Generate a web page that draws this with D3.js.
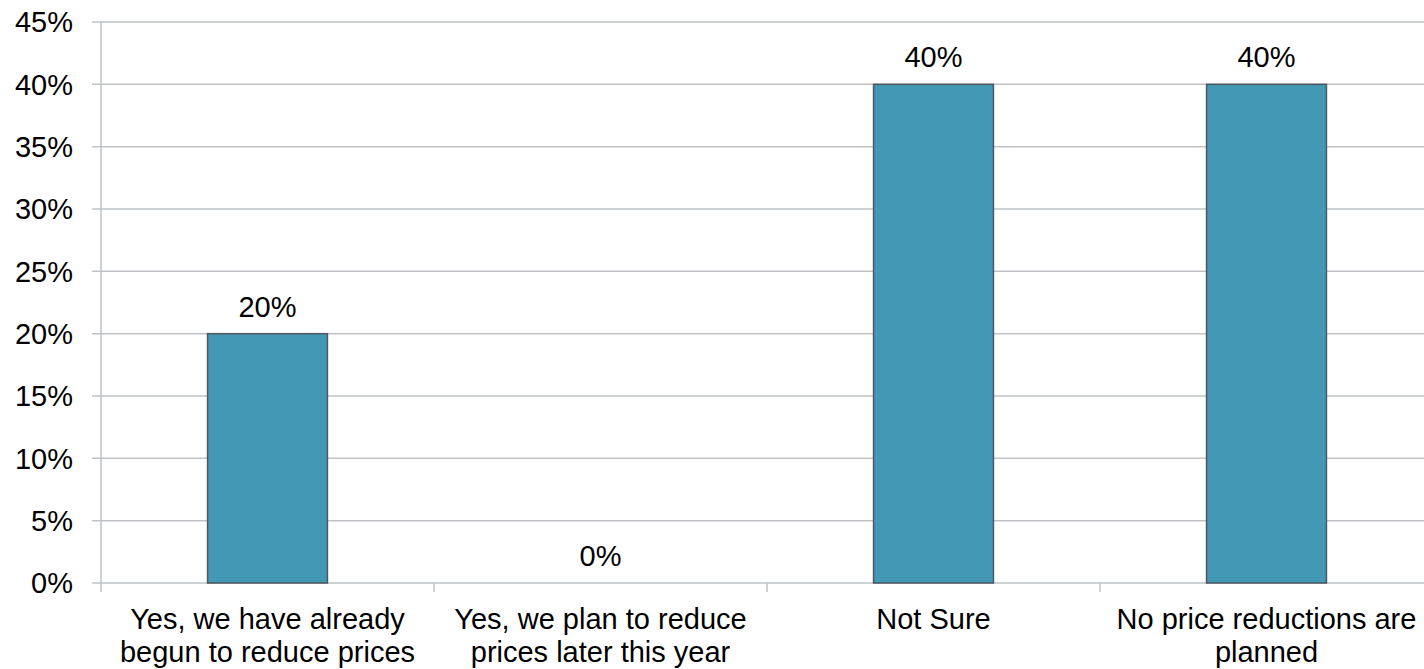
<!DOCTYPE html>
<html lang="en">
<head>
<meta charset="utf-8">
<title>Price reductions</title>
<script src="https://d3js.org/d3.v7.js"></script>
<style>
  body { margin: 0; background: #fff; }
  text { font-family: "Liberation Sans", Arial, sans-serif; fill: #000; }
</style>
</head>
<body>
<script>

// data
const categories = [
  ["Yes, we have already", "begun to reduce prices"],
  ["Yes, we plan to reduce", "prices later this year"],
  ["Not Sure"],
  ["No price reductions are", "planned"]
];
const values = [20, 0, 40, 40];
const yTicks = [0, 5, 10, 15, 20, 25, 30, 35, 40, 45];

const w = 1424, h = 669;
const margin = {top: 22, right: -9, bottom: 86, left: 101};
const innerWidth = w - margin.left - margin.right;
const innerHeight = h - margin.top - margin.bottom;

const svg = d3.select("body").append("svg")
    .attr("width", w)
    .attr("height", h);

const g = svg.append("g")
    .attr("transform", `translate(${margin.left},${margin.top})`);

const xScale = d3.scaleBand()
    .domain(d3.range(categories.length))
    .range([0, innerWidth])
    .padding(0);

const yScale = d3.scaleLinear()
    .domain([0, 45])
    .range([innerHeight, 0]);

// gridlines + y tick marks
g.selectAll("line.grid")
  .data(yTicks)
  .enter().append("line")
    .attr("class", "grid")
    .attr("x1", -9)
    .attr("x2", innerWidth)
    .attr("y1", d => yScale(d))
    .attr("y2", d => yScale(d))
    .attr("stroke", "#bfc3c7")
    .attr("stroke-width", 1.5);

g.selectAll("text.ytick")
  .data(yTicks)
  .enter().append("text")
    .attr("class", "ytick")
    .attr("x", -28)
    .attr("y", d => yScale(d))
    .attr("dy", "0.36em")
    .attr("text-anchor", "end")
    .style("font-size", "29px")
    .text(d => d + "%");

// y axis line
g.append("line")
    .attr("x1", 0).attr("x2", 0)
    .attr("y1", 0).attr("y2", innerHeight + 9)
    .attr("stroke", "#bfc3c7")
    .attr("stroke-width", 1.5);

// category tick marks at band boundaries
g.selectAll("line.xtick")
  .data(d3.range(1, categories.length))
  .enter().append("line")
    .attr("class", "xtick")
    .attr("x1", d => xScale(d))
    .attr("x2", d => xScale(d))
    .attr("y1", innerHeight)
    .attr("y2", innerHeight + 9)
    .attr("stroke", "#bfc3c7")
    .attr("stroke-width", 1.5);

// bars
const barW = xScale.bandwidth() * 0.36;
g.selectAll("rect.bar")
  .data(values)
  .enter().append("rect")
    .attr("class", "bar")
    .attr("x", (d, i) => xScale(i) + (xScale.bandwidth() - barW) / 2)
    .attr("y", d => yScale(d))
    .attr("width", barW)
    .attr("height", d => innerHeight - yScale(d))
    .attr("fill", "#4298b5")
    .attr("stroke", "#4f565e")
    .attr("stroke-width", d => d > 0 ? 1.5 : 0);

// value labels
g.selectAll("text.val")
  .data(values)
  .enter().append("text")
    .attr("class", "val")
    .attr("x", (d, i) => xScale(i) + xScale.bandwidth() / 2)
    .attr("y", d => yScale(d) - 17)
    .attr("text-anchor", "middle")
    .style("font-size", "29px")
    .text(d => d + "%");

// category labels
const cat = g.selectAll("text.cat")
  .data(categories)
  .enter().append("text")
    .attr("class", "cat")
    .attr("x", (d, i) => xScale(i) + xScale.bandwidth() / 2)
    .attr("y", innerHeight + 46)
    .attr("text-anchor", "middle")
    .style("font-size", "29px");

cat.selectAll("tspan")
  .data(d => d)
  .enter().append("tspan")
    .attr("x", function() { return d3.select(this.parentNode).attr("x"); })
    .attr("dy", (d, i) => i === 0 ? 0 : 33)
    .text(d => d);

</script>
</body>
</html>
